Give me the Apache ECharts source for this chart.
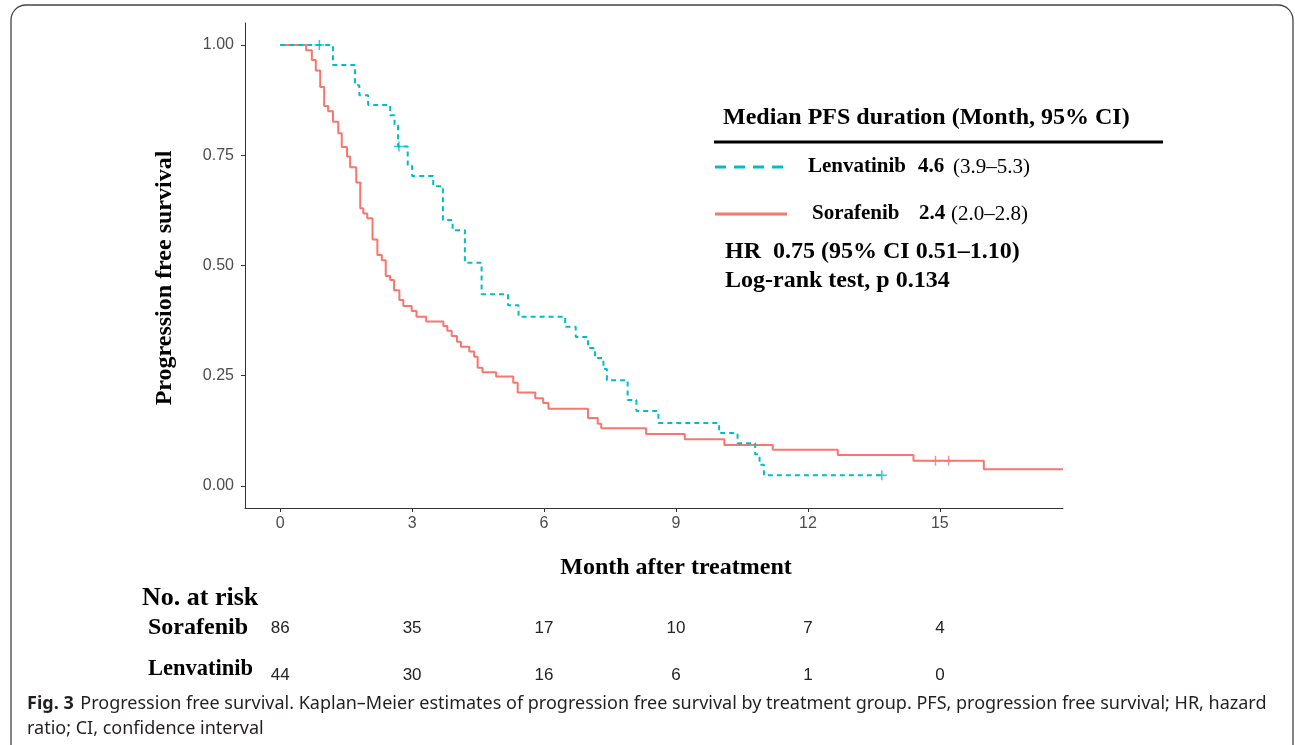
<!DOCTYPE html>
<html>
<head>
<meta charset="utf-8">
<script src="https://cdn.jsdelivr.net/npm/echarts@6/dist/echarts.min.js"></script>
<style>
html,body{margin:0;padding:0;background:#fff;}
#c{width:1295px;height:745px;}
</style>
</head>
<body>
<div id="c"></div>
<script>
// ---- data ----
const xTicks = [0, 3, 6, 9, 12, 15];
const yTicks = [0, 0.25, 0.5, 0.75, 1];

const lenvTime = [0, 1.2, 1.7, 1.8, 2.0, 2.5, 2.6, 2.68, 2.9, 3.0, 3.48, 3.7, 3.92, 4.2, 4.58, 5.18, 5.42, 6.48, 6.72, 7.0, 7.16, 7.35, 7.43, 7.9, 8.1, 8.6, 9.98, 10.4, 10.8, 10.9, 11.0, 13.68];
const lenvSurv = [1.0, 0.955, 0.909, 0.886, 0.864, 0.841, 0.818, 0.77, 0.726, 0.703, 0.68, 0.603, 0.58, 0.506, 0.435, 0.41, 0.384, 0.361, 0.338, 0.313, 0.29, 0.265, 0.24, 0.195, 0.17, 0.143, 0.12, 0.097, 0.072, 0.048, 0.024, 0.024];

const sorTime = [0, 0.59, 0.72, 0.81, 0.91, 1.0, 1.09, 1.2, 1.32, 1.4, 1.52, 1.59, 1.73, 1.82, 1.89, 1.98, 2.1, 2.21, 2.31, 2.4, 2.5, 2.59, 2.71, 2.8, 2.99, 3.1, 3.32, 3.71, 3.8, 3.9, 4.02, 4.11, 4.3, 4.41, 4.49, 4.6, 4.91, 5.3, 5.4, 5.8, 5.98, 6.1, 7.0, 7.22, 7.3, 8.32, 9.2, 10.1, 11.2, 12.68, 14.4, 16.0, 17.8];
const sorSurv = [1.0, 0.988, 0.966, 0.942, 0.905, 0.862, 0.85, 0.826, 0.80, 0.769, 0.747, 0.723, 0.688, 0.63, 0.618, 0.607, 0.559, 0.524, 0.512, 0.476, 0.467, 0.444, 0.422, 0.408, 0.397, 0.384, 0.373, 0.363, 0.352, 0.34, 0.327, 0.316, 0.305, 0.293, 0.268, 0.258, 0.248, 0.234, 0.212, 0.199, 0.188, 0.175, 0.154, 0.141, 0.131, 0.118, 0.106, 0.093, 0.082, 0.07, 0.057, 0.038, 0.038];

const lenvCensorT = [0.89, 2.7, 13.68];
const lenvCensorS = [1.0, 0.77, 0.024];
const sorCensorT = [14.9, 15.2];
const sorCensorS = [0.057, 0.057];

const riskTimes = [0, 3, 6, 9, 12, 15];
const sorRisk = [86, 35, 17, 10, 7, 4];
const lenvRisk = [44, 30, 16, 6, 1, 0];

// ---- styles ----
const RED = '#F8766D';
const TEAL = '#00BFC4';
const SERIF = '"Liberation Serif", "DejaVu Serif", serif';
const SANS = '"Liberation Sans", Arial, sans-serif';
const CAP = '"Noto Sans", "Open Sans", sans-serif';
const PLUS = 'path://M-0.75,-5H0.75V5H-0.75Z M-5,-0.75H5V0.75H-5Z';

const zip = (a, b) => a.map((v, i) => [v, b[i]]);

const chart = echarts.init(document.getElementById('c'), null, {renderer: 'canvas'});

const option = {
  animation: false,
  backgroundColor: '#fff',
  grid: {left: 245, right: 232, top: 23, bottom: 237},
  xAxis: {
    type: 'value', min: -0.8, max: 17.8,
    axisLine: {show: true, onZero: false, lineStyle: {color: '#333', width: 1}},
    axisTick: {show: true, length: 4, customValues: xTicks, lineStyle: {color: '#333'}},
    axisLabel: {customValues: xTicks, color: '#4d4d4d', fontSize: 16, fontFamily: SANS, margin: 8},
    splitLine: {show: false}
  },
  yAxis: {
    type: 'value', min: -0.05, max: 1.05,
    axisLine: {show: true, onZero: false, lineStyle: {color: '#333', width: 1}},
    axisTick: {show: true, length: 4, customValues: yTicks, lineStyle: {color: '#333'}},
    axisLabel: {customValues: yTicks, color: '#4d4d4d', fontSize: 16, fontFamily: SANS, margin: 11,
      formatter: v => v.toFixed(2)},
    splitLine: {show: false}
  },
  series: [
    {name: 'Sorafenib', type: 'line', step: 'end', symbol: 'none', data: zip(sorTime, sorSurv),
      lineStyle: {color: RED, width: 2}, z: 2},
    {name: 'Lenvatinib', type: 'line', step: 'end', symbol: 'none', data: zip(lenvTime, lenvSurv),
      lineStyle: {color: TEAL, width: 2, type: [5, 4]}, z: 3},
    {type: 'scatter', symbol: PLUS, symbolSize: 10, data: zip(sorCensorT, sorCensorS),
      itemStyle: {color: RED}, z: 4},
    {type: 'scatter', symbol: PLUS, symbolSize: 10, data: zip(lenvCensorT, lenvCensorS),
      itemStyle: {color: TEAL}, z: 4}
  ]
};
chart.setOption(option);

// ---- annotations ----
const g = [];
const txt = (x, y, text, font, extra) => Object.assign({type: 'text', x: x, y: y,
  style: {text: text, font: font, fill: '#000', align: 'left', verticalAlign: 'middle'}}, extra || {});

// frame (rounded box whose bottom runs off the page)
g.push({type: 'rect', shape: {x: 11, y: 5, width: 1282, height: 800, r: 15},
  style: {stroke: '#444', lineWidth: 1.3, fill: null}, silent: true});

// axis titles
g.push({type: 'text', x: 165, y: 278, rotation: Math.PI / 2,
  style: {text: 'Progression free survival', font: 'bold 24px ' + SERIF, fill: '#000', align: 'center', verticalAlign: 'middle'}});
g.push({type: 'text', x: 676, y: 568,
  style: {text: 'Month after treatment', font: 'bold 24px ' + SERIF, fill: '#000', align: 'center', verticalAlign: 'middle'}});

// legend box
g.push(txt(723, 118, 'Median PFS duration (Month, 95% CI)', 'bold 24px ' + SERIF));
g.push({type: 'line', shape: {x1: 714, y1: 142, x2: 1163, y2: 142}, style: {stroke: '#000', lineWidth: 3}});
g.push({type: 'line', shape: {x1: 715, y1: 167, x2: 785, y2: 167}, style: {stroke: TEAL, lineWidth: 3, lineDash: [11, 8]}});
g.push({type: 'line', shape: {x1: 715, y1: 214, x2: 787, y2: 214}, style: {stroke: RED, lineWidth: 3}});
g.push(txt(808, 167, 'Lenvatinib', 'bold 21px ' + SERIF));
g.push(txt(918, 167, '4.6', 'bold 21px ' + SERIF));
g.push(txt(953, 167, '(3.9\u20135.3)', '21px ' + SERIF));
g.push(txt(812, 214, 'Sorafenib', 'bold 21px ' + SERIF));
g.push(txt(919, 214, '2.4', 'bold 21px ' + SERIF));
g.push(txt(951, 214, '(2.0\u20132.8)', '21px ' + SERIF));
g.push(txt(725, 252, 'HR  0.75 (95% CI 0.51\u20131.10)', 'bold 24px ' + SERIF));
g.push(txt(725, 281, 'Log-rank test, p 0.134', 'bold 24px ' + SERIF));

// risk table
g.push(txt(142, 598, 'No. at risk', 'bold 26px ' + SERIF));
g.push(txt(148, 628, 'Sorafenib', 'bold 24px ' + SERIF));
g.push(txt(148, 669, 'Lenvatinib', 'bold 22.5px ' + SERIF));
riskTimes.forEach((t, i) => {
  const px = chart.convertToPixel({xAxisIndex: 0}, t);
  g.push({type: 'text', x: px, y: 628,
    style: {text: String(sorRisk[i]), font: '17px ' + SANS, fill: '#222', align: 'center', verticalAlign: 'middle'}});
  g.push({type: 'text', x: px, y: 675,
    style: {text: String(lenvRisk[i]), font: '17px ' + SANS, fill: '#222', align: 'center', verticalAlign: 'middle'}});
});

// caption
g.push({type: 'text', x: 27, y: 704, style: {
  text: '{b|Fig. 3}  {n|Progression free survival. Kaplan\u2013Meier estimates of progression free survival by treatment group. PFS, progression free survival; HR, hazard}',
  align: 'left', verticalAlign: 'middle',
  rich: {b: {font: 'bold 18px ' + CAP, fill: '#231f20'}, n: {font: '18px ' + CAP, fill: '#231f20'}}}});
g.push({type: 'text', x: 27, y: 729, style: {
  text: 'ratio; CI, confidence interval', font: '18px ' + CAP, fill: '#231f20', align: 'left', verticalAlign: 'middle'}});

chart.setOption({graphic: g});
</script>
</body>
</html>
